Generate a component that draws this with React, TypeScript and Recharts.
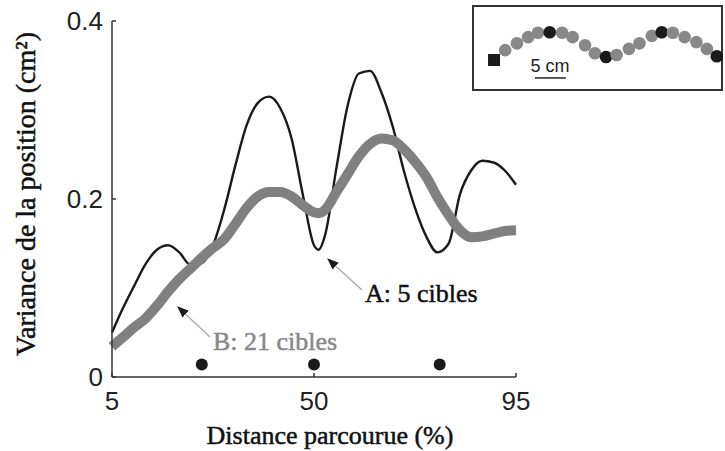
import { ComposedChart, Line, Scatter, ScatterChart, XAxis, YAxis, ReferenceLine } from "recharts";

// distance parcourue (%) and the two variance curves (cm²)
const distance = [5, 7.5, 10, 12.5, 15, 17.5, 20, 22.5, 25, 27.5, 30, 32.5, 35, 37.5, 40, 42.5, 45, 47.5, 50, 51, 52.5, 55, 57.5, 60, 62.5, 65, 67.5, 70, 72.5, 75, 77.5, 80, 82.5, 85, 87.5, 90, 92.5, 95];
const cibles5 = [0.05, 0.078, 0.103, 0.127, 0.143, 0.148, 0.14, 0.126, 0.128, 0.148, 0.188, 0.238, 0.283, 0.308, 0.315, 0.302, 0.268, 0.205, 0.148, 0.143, 0.16, 0.235, 0.305, 0.341, 0.344, 0.32, 0.282, 0.232, 0.19, 0.158, 0.14, 0.15, 0.205, 0.232, 0.243, 0.241, 0.232, 0.216];
const cibles21 = [0.034, 0.045, 0.056, 0.066, 0.08, 0.096, 0.11, 0.122, 0.134, 0.145, 0.155, 0.172, 0.19, 0.203, 0.208, 0.208, 0.203, 0.193, 0.185, 0.184, 0.188, 0.208, 0.228, 0.248, 0.262, 0.268, 0.266, 0.256, 0.242, 0.225, 0.202, 0.182, 0.165, 0.157, 0.158, 0.161, 0.164, 0.165];

// black targets along the x axis
const targetX = [25, 50, 78];
const targetY = [0.014, 0.014, 0.014];

const xTicks = [5, 50, 95];
const yTicks = [0, 0.2, 0.4];

// inset: path of 21 targets (cm), start square + black targets
const pathX = [0, 1.8, 3.7, 5.5, 7.1, 9.0, 11.0, 12.7, 14.7, 16.3, 18.1, 19.8, 21.8, 23.5, 25.5, 27.1, 28.9, 30.8, 32.7, 34.4, 36.0];
const pathY = [0, 1.6, 2.7, 3.7, 4.4, 4.5, 4.4, 3.7, 2.4, 1.1, 0.5, 0.8, 1.8, 2.7, 3.9, 4.5, 4.4, 3.7, 2.9, 1.8, 0.6];
const blackIdx = [5, 10, 15, 20];

const rows = distance.map((x, i) => ({ x, a: cibles5[i], b: cibles21[i] }));
const targets = targetX.map((x, i) => ({ x, y: targetY[i] }));
const pathPts = pathX.map((x, i) => ({ x, y: pathY[i], k: i === 0 ? "start" : blackIdx.includes(i) ? "black" : "gray" }));

const SANS = "'Liberation Sans', Arial, sans-serif";
const SERIF = "'Liberation Serif', 'Times New Roman', serif";
const tickStyle = { fontSize: 26, fill: "#222", fontFamily: SANS };

const dot = (props: any) => <circle cx={props.cx} cy={props.cy} r={6} fill="#1a1a1a" />;

const pathDot = (props: any) => {
  const k = props.payload.k;
  if (k === "start") return <rect x={props.cx - 6} y={props.cy - 6} width={12} height={12} fill="#1a1a1a" />;
  return <circle cx={props.cx} cy={props.cy} r={6.3} fill={k === "black" ? "#1a1a1a" : "#888"} />;
};

// serif labels are a touch heavier in the original
const serifText = { fontFamily: SERIF, stroke: "currentColor", strokeWidth: 0.5 };

export default function App() {
  return (
    <div style={{ position: "absolute", left: 0, top: 0, width: 725, height: 451, background: "#fff" }}>
      <ComposedChart width={725} height={451} data={rows} margin={{ top: 21, right: 209, left: 0, bottom: 44 }}>
        <XAxis
          dataKey="x"
          type="number"
          domain={[5, 95]}
          ticks={xTicks}
          height={30}
          tickSize={-4}
          tickMargin={19}
          tick={tickStyle}
          stroke="#333"
          strokeWidth={1.5}
          interval={0}
        />
        <YAxis
          type="number"
          domain={[0, 0.4]}
          ticks={yTicks}
          width={112}
          tickSize={-4}
          tickMargin={13}
          tick={tickStyle}
          stroke="#333"
          strokeWidth={1.5}
          interval={0}
        />
        <Line dataKey="a" type="monotone" stroke="#1a1a1a" strokeWidth={2.4} dot={false} isAnimationActive={false} />
        <Line dataKey="b" type="monotone" stroke="#808080" strokeWidth={10} dot={false} isAnimationActive={false} />
        <Scatter data={targets} dataKey="y" shape={dot} isAnimationActive={false} />
      </ComposedChart>

      <svg width={725} height={451} style={{ position: "absolute", left: 0, top: 0, pointerEvents: "none" }}>
        <defs>
          <marker id="ah" viewBox="0 0 10 10" refX="9" refY="5" markerWidth="9" markerHeight="9" orient="auto">
            <path d="M0,1 L10,5 L0,9 z" fill="#1a1a1a" />
          </marker>
        </defs>
        <text x={35} y={194} transform="rotate(-90 35 194)" textAnchor="middle" fontSize={28} fill="#111" color="#111" {...serifText}>
          Variance de la position  (cm²)
        </text>
        <text x={330} y={444} textAnchor="middle" fontSize={26} fill="#111" color="#111" {...serifText}>
          Distance parcourue (%)
        </text>
        <line x1={362} y1={290} x2={328} y2={259} stroke="#aaa" strokeWidth={1.3} markerEnd="url(#ah)" />
        <text x={365} y={302} fontSize={26} fill="#111" color="#111" {...serifText}>A: 5 cibles</text>
        <line x1={210} y1={337} x2={178} y2={307} stroke="#aaa" strokeWidth={1.3} markerEnd="url(#ah)" />
        <text x={213} y={350} fontSize={26} fill="#888" color="#888" {...serifText}>B: 21 cibles</text>
        <rect x={473} y={6} width={249} height={84} fill="none" stroke="#333" strokeWidth={2} />
        <text x={550} y={72} textAnchor="middle" fontFamily={SANS} fontSize={18} fill="#222">5 cm</text>
      </svg>

      <div style={{ position: "absolute", left: 473, top: 5, width: 250, height: 85 }}>
        <ScatterChart width={250} height={85} margin={{ top: 0, right: 0, left: 0, bottom: 0 }}>
          <XAxis dataKey="x" type="number" domain={[-3.4, 37]} hide />
          <YAxis dataKey="y" type="number" domain={[-4.85, 8.9]} hide />
          <ReferenceLine segment={[{ x: 6.6, y: -2.9 }, { x: 11.6, y: -2.9 }]} stroke="#222" strokeWidth={1.5} />
          <Scatter data={pathPts} shape={pathDot} isAnimationActive={false} />
        </ScatterChart>
      </div>
    </div>
  );
}
